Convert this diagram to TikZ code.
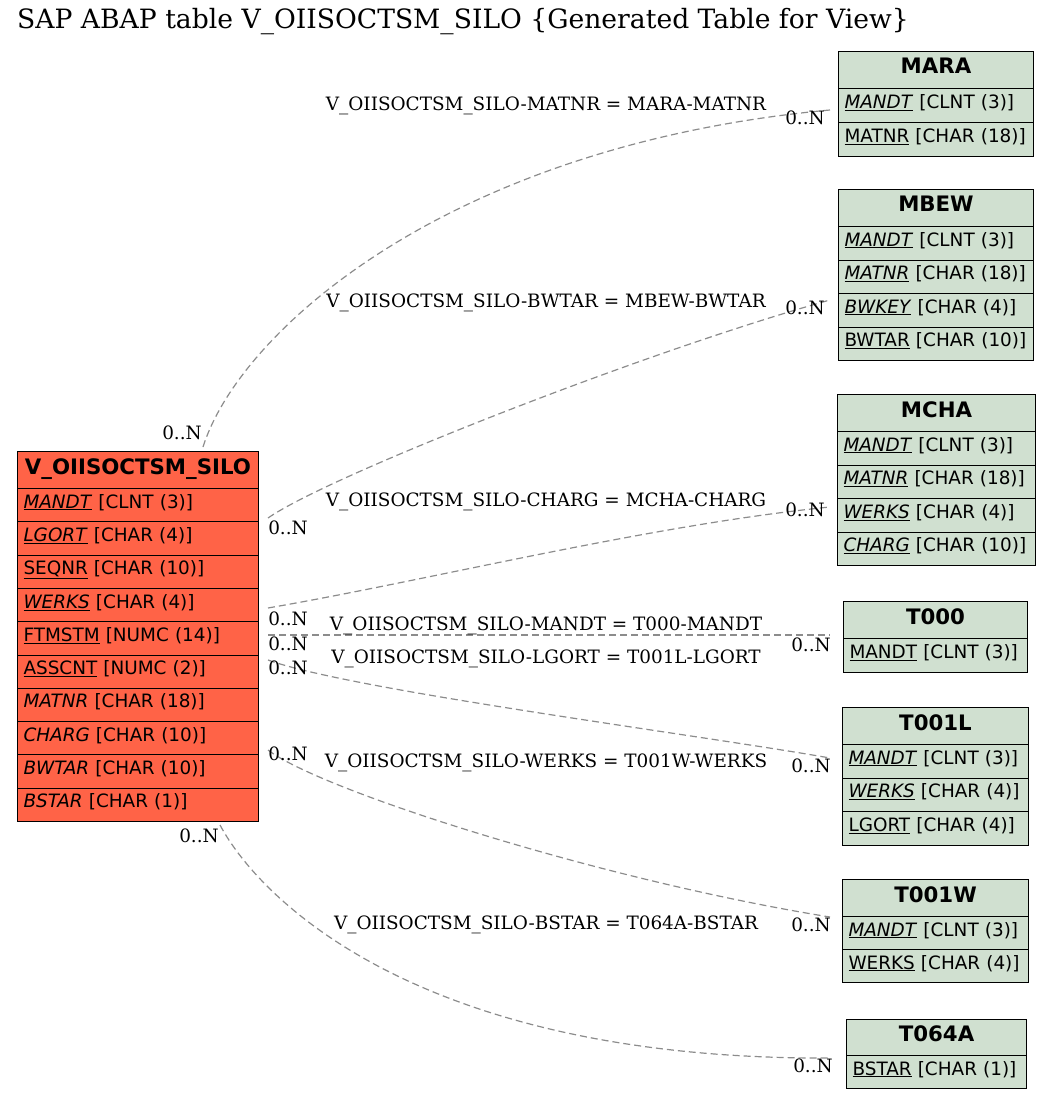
\documentclass[tikz,border=0pt]{standalone}
\usepackage{fontspec}
\setmainfont{DejaVu Serif}
\setsansfont{DejaVu Sans}

\definecolor{silored}{RGB}{255,99,71}
\definecolor{refgreen}{RGB}{208,224,208}
\definecolor{relgray}{RGB}{140,140,140}

\newcommand{\ikey}[1]{\underline{\textit{#1}}}
\newcommand{\ukey}[1]{\underline{#1}}

\tikzstyle{tab head}=[draw, line width=1pt, anchor=north west, minimum height=37pt, inner sep=0pt, text height=16pt, text depth=8pt, font=\sffamily\bfseries\fontsize{21.3}{25}\selectfont]
\tikzstyle{tab field}=[draw, line width=1pt, anchor=north west, minimum height=34pt, inner xsep=6pt, inner ysep=0pt, text height=14pt, text depth=8pt, align=left, font=\sffamily\fontsize{18.4}{22}\selectfont]
\tikzstyle{relation}=[draw, relgray, line width=1.2pt, dash pattern=on 7pt off 4pt]
\tikzstyle{card}=[inner sep=0pt, font=\fontsize{18.4}{22}\selectfont]
\tikzstyle{rel label}=[inner sep=0pt, font=\fontsize{18.4}{22}\selectfont]

\begin{document}
\begin{tikzpicture}[x=1pt, y=-1pt]
	\useasboundingbox (0,0) rectangle (1051,1099);
	\node[anchor=west, inner sep=0pt, font=\fontsize{26.6}{30}\selectfont] (title) at (17,22) {SAP ABAP table V\_OIISOCTSM\_SILO \{Generated Table for View\}};

	% the view
	\node[tab head, fill=silored, minimum width=241pt] (silo) at (17,451) {V\_OIISOCTSM\_SILO};
	\foreach \i/\txt in {1/{\ikey{MANDT} [CLNT (3)]}, 2/{\ikey{LGORT} [CHAR (4)]}, 3/{\ukey{SEQNR} [CHAR (10)]}, 4/{\ikey{WERKS} [CHAR (4)]}, 5/{\ukey{FTMSTM} [NUMC (14)]}, 6/{\ukey{ASSCNT} [NUMC (2)]}, 7/{\textit{MATNR} [CHAR (18)]}, 8/{\textit{CHARG} [CHAR (10)]}, 9/{\textit{BWTAR} [CHAR (10)]}, 10/{\textit{BSTAR} [CHAR (1)]}}
		\node[tab field, fill=silored, text width=229pt, minimum height=33.3pt] (silo-\i) at (17,{488+(\i-1)*33.3}) {\txt};

	% check tables
	\node[tab head, fill=refgreen, minimum width=195pt] (mara) at (838,51) {MARA};
	\foreach \i/\txt in {1/{\ikey{MANDT} [CLNT (3)]}, 2/{\ukey{MATNR} [CHAR (18)]}}
		\node[tab field, fill=refgreen, text width=183pt] (mara-\i) at (838,{88+(\i-1)*34}) {\txt};
	\node[tab head, fill=refgreen, minimum width=195pt] (mbew) at (838,189) {MBEW};
	\foreach \i/\txt in {1/{\ikey{MANDT} [CLNT (3)]}, 2/{\ikey{MATNR} [CHAR (18)]}, 3/{\ikey{BWKEY} [CHAR (4)]}, 4/{\ukey{BWTAR} [CHAR (10)]}}
		\node[tab field, fill=refgreen, text width=183pt, minimum height=33.5pt] (mbew-\i) at (838,{226+(\i-1)*33.5}) {\txt};
	\node[tab head, fill=refgreen, minimum width=198pt] (mcha) at (837,394) {MCHA};
	\foreach \i/\txt in {1/{\ikey{MANDT} [CLNT (3)]}, 2/{\ikey{MATNR} [CHAR (18)]}, 3/{\ikey{WERKS} [CHAR (4)]}, 4/{\ikey{CHARG} [CHAR (10)]}}
		\node[tab field, fill=refgreen, text width=186pt, minimum height=33.5pt] (mcha-\i) at (837,{431+(\i-1)*33.5}) {\txt};
	\node[tab head, fill=refgreen, minimum width=184pt] (t000) at (843,601) {T000};
	\node[tab field, fill=refgreen, text width=172pt] (t000-1) at (843,638) {\ukey{MANDT} [CLNT (3)]};
	\node[tab head, fill=refgreen, minimum width=186pt] (t001l) at (842,707) {T001L};
	\foreach \i/\txt in {1/{\ikey{MANDT} [CLNT (3)]}, 2/{\ikey{WERKS} [CHAR (4)]}, 3/{\ukey{LGORT} [CHAR (4)]}}
		\node[tab field, fill=refgreen, text width=174pt, minimum height=33.5pt] (t001l-\i) at (842,{744+(\i-1)*33.5}) {\txt};
	\node[tab head, fill=refgreen, minimum width=186pt] (t001w) at (842,879) {T001W};
	\foreach \i/\txt in {1/{\ikey{MANDT} [CLNT (3)]}, 2/{\ukey{WERKS} [CHAR (4)]}}
		\node[tab field, fill=refgreen, text width=174pt, minimum height=33pt] (t001w-\i) at (842,{916+(\i-1)*33}) {\txt};
	\node[tab head, fill=refgreen, minimum width=180pt, minimum height=36pt] (t064a) at (846,1019) {T064A};
	\node[tab field, fill=refgreen, text width=168pt, minimum height=33pt] (t064a-1) at (846,1055) {\ukey{BSTAR} [CHAR (1)]};

	% relation ends
	\coordinate (s-matnr) at (203,447);
	\coordinate (e-mara) at (830,110);
	\coordinate (s-bwtar) at (268,518);
	\coordinate (e-mbew) at (830,300);
	\coordinate (s-charg) at (268,608);
	\coordinate (e-mcha) at (830,507);
	\coordinate (s-mandt) at (268,635);
	\coordinate (e-t000) at (830,635);
	\coordinate (s-lgort) at (268,660);
	\coordinate (e-t001l) at (830,758);
	\coordinate (s-werks) at (268,750);
	\coordinate (e-t001w) at (830,917);
	\coordinate (s-bstar) at (220,825);
	\coordinate (e-t064a) at (830,1058);
	\path[relation] (s-matnr) .. controls (240,330) and (450,145) .. (e-mara);
	\path[relation] (s-bwtar) .. controls (330,475) and (650,350) .. (e-mbew);
	\path[relation] (s-charg) .. controls (430,580) and (650,525) .. (e-mcha);
	\path[relation] (s-mandt) -- (e-t000);
	\path[relation] (s-lgort) .. controls (350,690) and (700,735) .. (e-t001l);
	\path[relation] (s-werks) .. controls (320,790) and (600,880) .. (e-t001w);
	\path[relation] (s-bstar) .. controls (260,900) and (420,1060) .. (e-t064a);

	% labels
	\node[rel label] (l-matnr) at (546,106) {V\_OIISOCTSM\_SILO-MATNR = MARA-MATNR};
	\node[rel label] (l-bwtar) at (546,303) {V\_OIISOCTSM\_SILO-BWTAR = MBEW-BWTAR};
	\node[rel label] (l-charg) at (546,502) {V\_OIISOCTSM\_SILO-CHARG = MCHA-CHARG};
	\node[rel label] (l-mandt) at (546,626) {V\_OIISOCTSM\_SILO-MANDT = T000-MANDT};
	\node[rel label] (l-lgort) at (546,659) {V\_OIISOCTSM\_SILO-LGORT = T001L-LGORT};
	\node[rel label] (l-werks) at (546,763) {V\_OIISOCTSM\_SILO-WERKS = T001W-WERKS};
	\node[rel label] (l-bstar) at (546,925) {V\_OIISOCTSM\_SILO-BSTAR = T064A-BSTAR};
	\foreach \pos/\name in {{(182,433)/n-matnr}, {(805,118)/m-mara}, {(288,528)/n-bwtar}, {(805,308)/m-mbew}, {(288,619)/n-charg}, {(805,510)/m-mcha}, {(288,644)/n-mandt}, {(811,645)/m-t000}, {(288,668)/n-lgort}, {(811,766)/m-t001l}, {(288,754)/n-werks}, {(811,925)/m-t001w}, {(199,836)/n-bstar}, {(813,1066)/m-t064a}}
		\node[card] (\name) at \pos {0..N};
\end{tikzpicture}
\end{document}
